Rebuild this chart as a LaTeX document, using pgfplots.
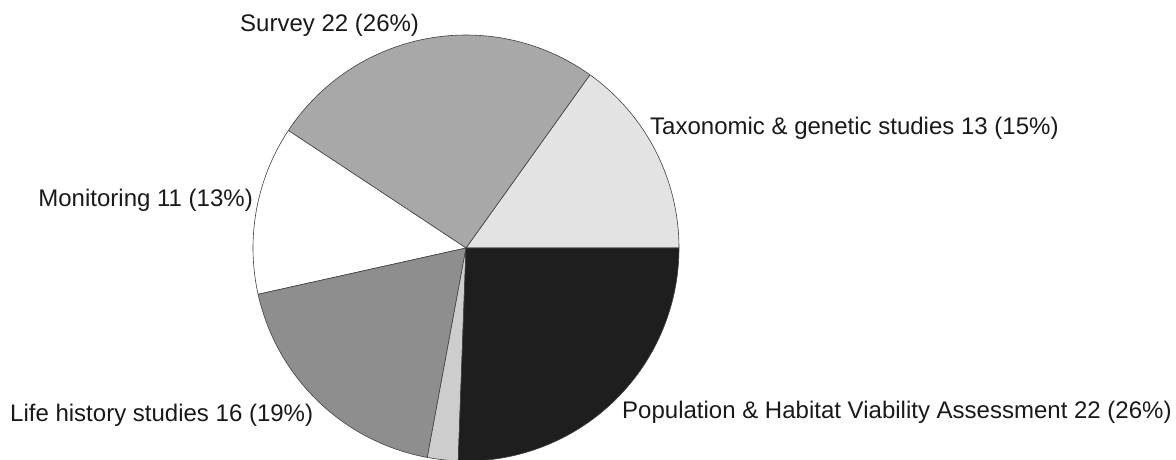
\documentclass[border=0pt]{standalone}
\usepackage{pgfplots}
\pgfplotsset{compat=1.18}
\usepackage{fontspec}
\setmainfont{Liberation Sans}
% values (counts), counter-clockwise from east
\def\vTax{13}\def\vSur{22}\def\vMon{11}\def\vLif{16}\def\vOth{2}\def\vPHV{22}
\pgfmathsetmacro{\tot}{\vTax+\vSur+\vMon+\vLif+\vOth+\vPHV}
\pgfmathsetmacro{\aA}{0}
\pgfmathsetmacro{\aB}{\aA+360*\vTax/\tot}
\pgfmathsetmacro{\aC}{\aB+360*\vSur/\tot}
\pgfmathsetmacro{\aD}{\aC+360*\vMon/\tot}
\pgfmathsetmacro{\aE}{\aD+360*\vLif/\tot}
\pgfmathsetmacro{\aF}{\aE+360*\vOth/\tot}
\pgfmathsetmacro{\aG}{360}
\def\cx{466}\def\cy{212}\def\rr{213}
\definecolor{cTax}{HTML}{E3E3E3}
\definecolor{cSur}{HTML}{A8A8A8}
\definecolor{cMon}{HTML}{FFFFFF}
\definecolor{cLif}{HTML}{8E8E8E}
\definecolor{cOth}{HTML}{CDCDCD}
\definecolor{cPHV}{HTML}{1E1E1E}
\begin{document}
\begin{tikzpicture}
\useasboundingbox (0,0) rectangle (1176bp,460bp);
\begin{axis}[
  at={(0,0)}, anchor=south west,
  width=1176bp, height=460bp, scale only axis,
  xmin=0, xmax=1176, ymin=0, ymax=460,
  hide axis, clip=true,
  every axis plot/.append style={draw=black!75, line width=0.6pt, samples=90, line join=round},
]
\addplot[fill=cTax, domain=\aA:\aB] ({\cx+\rr*cos(x)},{\cy+\rr*sin(x)}) -- (axis cs:\cx,\cy) -- cycle;
\addplot[fill=cSur, domain=\aB:\aC] ({\cx+\rr*cos(x)},{\cy+\rr*sin(x)}) -- (axis cs:\cx,\cy) -- cycle;
\addplot[fill=cMon, domain=\aC:\aD] ({\cx+\rr*cos(x)},{\cy+\rr*sin(x)}) -- (axis cs:\cx,\cy) -- cycle;
\addplot[fill=cLif, domain=\aD:\aE] ({\cx+\rr*cos(x)},{\cy+\rr*sin(x)}) -- (axis cs:\cx,\cy) -- cycle;
\addplot[fill=cOth, domain=\aE:\aF, samples=10] ({\cx+\rr*cos(x)},{\cy+\rr*sin(x)}) -- (axis cs:\cx,\cy) -- cycle;
\addplot[fill=cPHV, domain=\aF:\aG] ({\cx+\rr*cos(x)},{\cy+\rr*sin(x)}) -- (axis cs:\cx,\cy) -- cycle;
\end{axis}
\begin{scope}[every node/.style={inner sep=0pt, text=black!90, font=\fontsize{24.1pt}{29pt}\selectfont}, x=1bp, y=1bp]
\node[anchor=west] at (240,435) {Survey 22 (26\%)};
\node[anchor=west] at (650,332) {Taxonomic \& genetic studies 13 (15\%)};
\node[anchor=east] at (253,260) {Monitoring 11 (13\%)};
\node[anchor=west] at (10,45) {Life history studies 16 (19\%)};
\node[anchor=west] at (622,48) {Population \& Habitat Viability Assessment 22 (26\%)};
\end{scope}
\end{tikzpicture}
\end{document}
